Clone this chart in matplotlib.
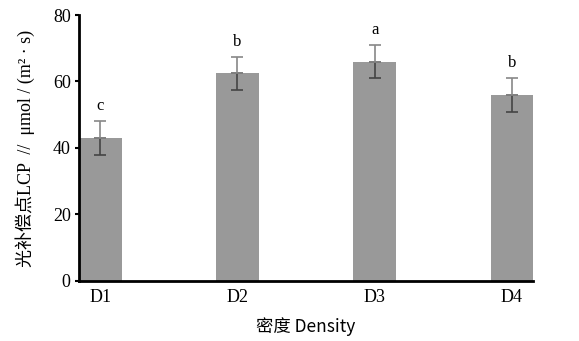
import numpy as np
import matplotlib.pyplot as plt

# densities and LCP values
groups = ['D1', 'D2', 'D3', 'D4']
lcp = [43.0, 62.5, 66.0, 56.0]
err = [5.1, 5.0, 5.0, 5.2]
letters = ['c', 'b', 'a', 'b']

plt.rcParams['font.family'] = ['Liberation Serif', 'Noto Sans CJK SC']

fig = plt.figure(figsize=(5.79, 3.41), dpi=100)
ax = fig.add_axes([0.1364, 0.176, 0.7842, 0.780])

x = np.arange(len(groups))
w = 0.31
ax.bar(x, lcp, width=w, color='#999999')
# lower half of the error bar darker, upper half lighter
ax.errorbar(x, lcp, yerr=[err, [0] * 4], fmt='none', ecolor='#444444',
            elinewidth=1.2, capsize=4, capthick=1.2)
ax.errorbar(x, lcp, yerr=[[0] * 4, err], fmt='none', ecolor='#888888',
            elinewidth=1.2, capsize=4, capthick=1.2)

for xi, v, e, t in zip(x, lcp, err, letters):
    ax.text(xi, v + e + 2.0, t, ha='center', va='bottom', fontsize=12)

ax.set_xlim(-w / 2, 3 + w / 2)
ax.set_ylim(0, 80)
ax.set_yticks([0, 20, 40, 60, 80])
ax.set_xticks(x)
ax.set_xticklabels(groups)
ax.tick_params(axis='x', length=0, labelsize=13, pad=6)
ax.tick_params(axis='y', length=3, width=1.5, labelsize=13, pad=3)
for s in ['top', 'right']:
    ax.spines[s].set_visible(False)
for s in ['left', 'bottom']:
    ax.spines[s].set_linewidth(2)

ax.set_xlabel('密度 Density', fontsize=12.5, labelpad=8,
              family=['Noto Sans CJK SC', 'DejaVu Sans'])
ax.set_ylabel('光补偿点LCP  //  μmol / (m² · s)', fontsize=13, labelpad=13)

fig.savefig('out.png', dpi=100)
